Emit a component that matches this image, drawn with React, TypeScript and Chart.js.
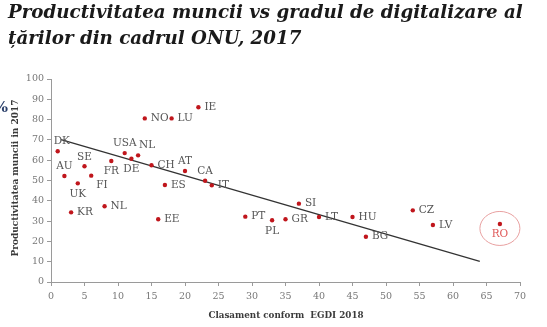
import React, { useEffect, useRef } from "react";
import { Chart, registerables } from "chart.js";

Chart.register(...registerables);

const countries = ["DK", "AU", "SE", "UK", "FI", "KR", "NL", "FR", "USA", "DE", "NL", "NO", "LU", "CH", "ES", "EE", "AT", "IE", "CA", "IT", "PT", "PL", "GR", "SI", "LT", "HU", "BG", "CZ", "LV", "RO"];
const egdiRank = [1, 2, 5, 4, 6, 3, 8, 9, 11, 12, 13, 14, 18, 15, 17, 16, 20, 22, 23, 24, 29, 33, 35, 37, 40, 45, 47, 54, 57, 67];
const productivity = [64.4, 52.2, 57, 48.6, 52.4, 34.3, 37.3, 59.6, 63.5, 60.7, 62.4, 80.6, 80.6, 57.5, 47.8, 30.9, 54.7, 86.1, 49.9, 47.6, 32.2, 30.4, 30.9, 38.6, 32, 32, 22.3, 35.3, 28.1, 28.6];
const trendX = [1.5, 64];
const trendY = [70.1, 10.1];
const highlighted = "RO";

const titleLines = ["Productivitatea muncii vs gradul de digitalizare al", "țărilor din cadrul ONU, 2017"];
const yTitle = "Productivitatea muncii in 2017";
const xTitle = "Clasament conform  EGDI 2018";

// label placement per country index (layout only)
const placement: string[] = [
  "aboveStart", "above", "above", "below", "belowRight", "right", "right", "below", "above", "below",
  "aboveRight", "right", "right", "right", "right", "right", "above", "right", "above", "right",
  "right", "below", "right", "right", "right", "right", "right", "right", "right", "below",
];

const SERIF = '"DejaVu Serif", "Liberation Serif", serif';

function fitFont(ctx: CanvasRenderingContext2D, text: string, style: string, start: number, width: number) {
  let s = start;
  ctx.font = `${style} ${s}px ${SERIF}`;
  while (ctx.measureText(text).width > width && s > 6) {
    s -= 0.25;
    ctx.font = `${style} ${s}px ${SERIF}`;
  }
  return s;
}

const decorPlugin = {
  id: "decor",
  afterDatasetsDraw(chart: any) {
    const ctx: CanvasRenderingContext2D = chart.ctx;
    const meta = chart.getDatasetMeta(0);
    ctx.save();
    ctx.textBaseline = "middle";
    meta.data.forEach((pt: any, i: number) => {
      const name = countries[i];
      const p = placement[i];
      ctx.font = `10.5px ${SERIF}`;
      ctx.fillStyle = name === highlighted ? "#e05a5a" : "#555555";
      let x = pt.x, y = pt.y;
      if (p === "right") { ctx.textAlign = "left"; x += 6; }
      else if (p === "above") { ctx.textAlign = "center"; y -= 9.5; }
      else if (p === "below") { ctx.textAlign = "center"; y += 10.5; }
      else if (p === "aboveStart") { ctx.textAlign = "left"; x -= 4; y -= 10; }
      else if (p === "aboveRight") { ctx.textAlign = "left"; x += 1; y -= 9.6; }
      else if (p === "belowRight") { ctx.textAlign = "left"; x += 5; y += 9.3; }
      ctx.fillText(name, x, y);
      if (name === highlighted) {
        ctx.beginPath();
        ctx.strokeStyle = "#e8a0a0";
        ctx.lineWidth = 1;
        ctx.ellipse(pt.x, pt.y + 4.5, 20, 17, 0, 0, Math.PI * 2);
        ctx.stroke();
      }
    });
    ctx.restore();
  },
  afterDraw(chart: any) {
    const ctx: CanvasRenderingContext2D = chart.ctx;
    const area = chart.chartArea;
    ctx.save();
    // title
    ctx.fillStyle = "#1a1a1a";
    ctx.textAlign = "left";
    ctx.textBaseline = "alphabetic";
    const fs = fitFont(ctx, titleLines[0], "italic bold", 18.5, 519);
    ctx.font = `italic bold ${fs}px ${SERIF}`;
    ctx.fillText(titleLines[0], 8, 18);
    ctx.fillText(titleLines[1], 8, 44);
    // percent sign (clipped at the left edge)
    ctx.fillStyle = "#2a3f6a";
    ctx.font = `bold 15px ${SERIF}`;
    ctx.textAlign = "center";
    ctx.textBaseline = "middle";
    ctx.fillText("%", 1, 108);
    // y title
    ctx.fillStyle = "#3a3a3a";
    const ys = fitFont(ctx, yTitle, "bold", 11, 160);
    ctx.save();
    ctx.translate(16, 178);
    ctx.rotate(-Math.PI / 2);
    ctx.textAlign = "center";
    ctx.textBaseline = "middle";
    ctx.font = `bold ${ys}px ${SERIF}`;
    ctx.fillText(yTitle, 0, 0);
    ctx.restore();
    // x title
    const xs = fitFont(ctx, xTitle, "bold", 11, 158);
    ctx.font = `bold ${xs}px ${SERIF}`;
    ctx.textAlign = "center";
    ctx.textBaseline = "middle";
    ctx.fillText(xTitle, (area.left + area.right) / 2 + 0.5, 316);
    ctx.restore();
  },
};

export default function App() {
  const ref = useRef<HTMLCanvasElement | null>(null);
  useEffect(() => {
    if (!ref.current) return;
    const tickFont = { family: SERIF, size: 9.5 };
    const chart = new Chart(ref.current, {
      type: "scatter",
      data: {
        datasets: [
          {
            label: "Țări",
            data: egdiRank.map((x, i) => ({ x, y: productivity[i] })),
            backgroundColor: "#c0161c",
            borderColor: "#c0161c",
            pointRadius: 2.2,
            pointHoverRadius: 2.2,
            borderWidth: 0,
            order: 0,
          },
          {
            label: "Trend",
            data: trendX.map((x, i) => ({ x, y: trendY[i] })),
            showLine: true,
            borderColor: "#333333",
            borderWidth: 1.3,
            pointRadius: 0,
            order: 1,
          } as any,
        ],
      },
      options: {
        responsive: false,
        animation: false,
        events: [],
        layout: { padding: { top: 79, right: 27, left: 0, bottom: 0 } },
        plugins: {
          legend: { display: false },
          tooltip: { enabled: false },
          title: { display: false },
        },
        scales: {
          x: {
            type: "linear",
            min: 0,
            max: 70,
            afterFit: (s: any) => { s.height = 45; },
            ticks: { stepSize: 5, color: "#777777", font: tickFont, padding: 5, maxRotation: 0 },
            grid: { drawOnChartArea: false, drawTicks: true, tickLength: 4, color: "#9a9a9a" },
            border: { color: "#9a9a9a" },
          },
          y: {
            type: "linear",
            min: 0,
            max: 100,
            afterFit: (s: any) => { s.width = 51; },
            ticks: { stepSize: 10, color: "#777777", font: tickFont, padding: 3 },
            grid: { drawOnChartArea: false, drawTicks: true, tickLength: 4, color: "#9a9a9a" },
            border: { color: "#9a9a9a" },
          },
        },
      },
      plugins: [decorPlugin],
    } as any);
    return () => chart.destroy();
  }, []);
  return (
    <div style={{ position: "fixed", left: 0, top: 0, width: 547, height: 327, background: "#ffffff" }}>
      <canvas ref={ref} width={547} height={327} style={{ display: "block" }} />
    </div>
  );
}
